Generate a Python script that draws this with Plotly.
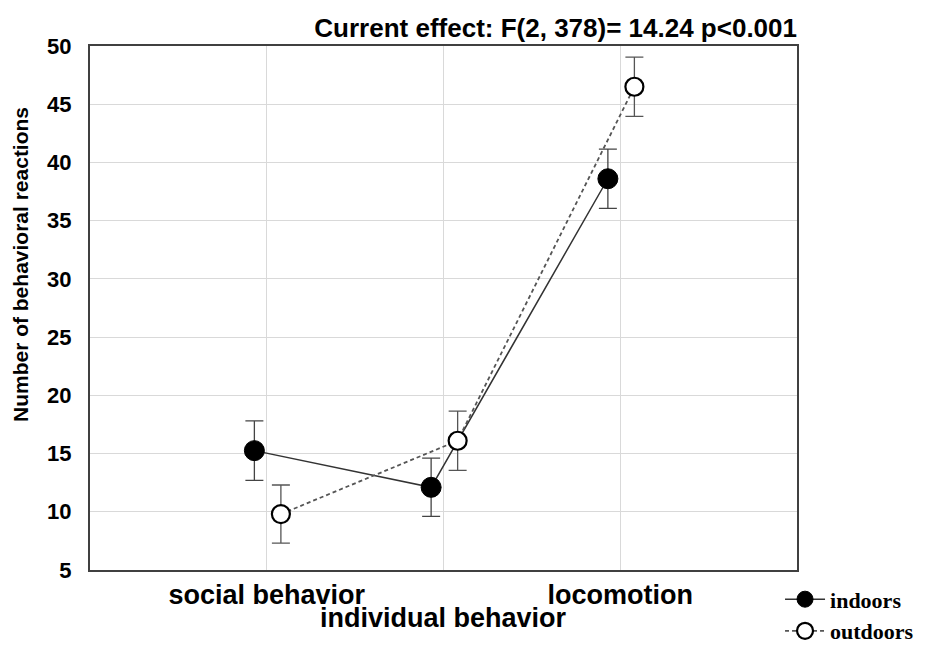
import plotly.graph_objects as go

categories = ["social behavior", "individual behavior", "locomotion"]
indoors_mean = [15.25, 12.1, 38.6]
indoors_err = [2.55, 2.5, 2.55]
outdoors_mean = [9.8, 16.1, 46.5]
outdoors_err = [2.5, 2.55, 2.55]
y_ticks = [5, 10, 15, 20, 25, 30, 35, 40, 45, 50]
title_text = "Current effect: F(2, 378)= 14.24 p<0.001"
y_title = "Number of behavioral reactions"

idx = list(range(len(categories)))
off_in, off_out = -0.07, 0.08
x_in = [i + off_in for i in idx]
x_out = [i + off_out for i in idx]

SANS = "Liberation Sans, Arial, sans-serif"
SERIF = "Liberation Serif, Times New Roman, serif"

fig = go.Figure()
fig.add_trace(go.Scatter(
    x=x_in, y=indoors_mean, name="indoors", mode="lines+markers",
    line=dict(color="#333333", width=1.5),
    marker=dict(symbol="circle", size=20, color="black", line=dict(color="black", width=1)),
    error_y=dict(type="data", array=indoors_err, visible=True, color="#444444", thickness=1.3, width=9),
))
fig.add_trace(go.Scatter(
    x=x_out, y=outdoors_mean, name="outdoors", mode="lines+markers",
    line=dict(color="#555555", width=1.8, dash="4px,3px"),
    marker=dict(symbol="circle", size=18, color="white", line=dict(color="black", width=2.2)),
    error_y=dict(type="data", array=outdoors_err, visible=True, color="#555555", thickness=1.3, width=9),
))

ticktext = [c if i != 1 else "" for i, c in enumerate(categories)]

fig.update_layout(
    width=937, height=646,
    margin=dict(l=82, r=148, t=38, b=84, autoexpand=False),
    paper_bgcolor="white", plot_bgcolor="white",
    showlegend=True,
    legend=dict(x=0.976, y=-0.016, xanchor="left", yanchor="top",
                font=dict(family=SERIF, size=22, color="black", weight="bold"),
                bgcolor="rgba(0,0,0,0)", tracegroupgap=0, itemwidth=40),
    title=dict(text=title_text, x=1, xref="paper", xanchor="right",
               y=1 - 20 / 646, yref="container", yanchor="middle",
               font=dict(family=SANS, size=26, color="black", weight="bold")),
    xaxis=dict(range=[-1, 3], tickmode="array", tickvals=idx, ticktext=ticktext,
               showgrid=True, gridcolor="#d9d9d9", gridwidth=1,
               showline=True, linecolor="#404040", linewidth=2, mirror=True,
               ticks="", automargin=False,
               tickfont=dict(family=SANS, size=27, color="black", weight="bold"),
               zeroline=False),
    yaxis=dict(range=[5, 50], tickmode="array", tickvals=y_ticks,
               showgrid=True, gridcolor="#d9d9d9", gridwidth=1,
               showline=True, linecolor="#404040", linewidth=2, mirror=True,
               ticks="", ticklabelstandoff=12, automargin=False,
               tickfont=dict(family=SANS, size=22, color="black", weight="bold"),
               zeroline=False),
)

fig.add_annotation(x=idx[1], y=0, xref="x", yref="paper", text=categories[1],
                   showarrow=False, yanchor="middle", yshift=-48,
                   font=dict(family=SANS, size=27, color="black", weight="bold"))
fig.add_annotation(x=-0.099, y=0.582, xref="paper", yref="paper", text=y_title,
                   showarrow=False, textangle=-90, xanchor="center", yanchor="middle",
                   font=dict(family=SANS, size=21, color="black", weight="bold"))

fig.write_html("out.html")
